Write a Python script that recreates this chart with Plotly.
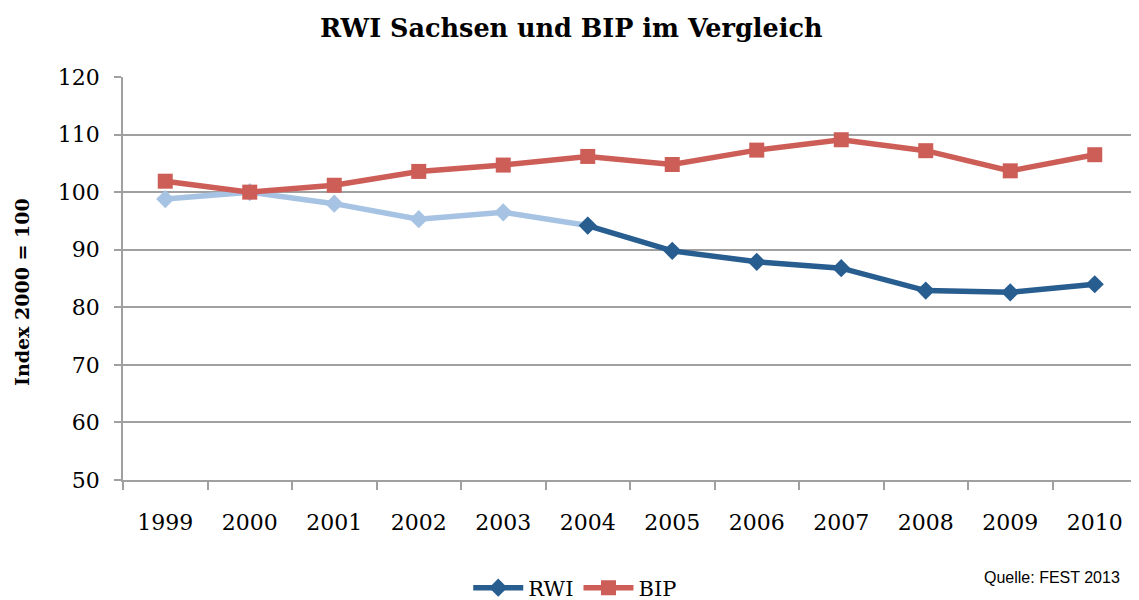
import plotly.graph_objects as go

years = ["1999", "2000", "2001", "2002", "2003", "2004", "2005", "2006", "2007", "2008", "2009", "2010"]
rwi = [98.8, 100.0, 98.0, 95.3, 96.5, 94.2, 89.8, 87.9, 86.8, 82.9, 82.6, 84.0]
bip = [101.9, 100.0, 101.2, 103.6, 104.7, 106.2, 104.8, 107.3, 109.1, 107.2, 103.7, 106.5]
y_ticks = [50, 60, 70, 80, 90, 100, 110, 120]

split = years.index("2004")

serif = "DejaVu Serif, Liberation Serif, serif"
light_blue = "#A7C3E3"
dark_blue = "#285D90"
red = "#CD5D57"

fig = go.Figure()
fig.add_trace(go.Scatter(
    x=years[:split + 1], y=rwi[:split + 1], mode="lines+markers",
    line=dict(color=light_blue, width=5.5),
    marker=dict(symbol="diamond", size=14, color=light_blue),
    showlegend=False, name="RWI (alt)"))
fig.add_trace(go.Scatter(
    x=years[split:], y=rwi[split:], mode="lines+markers",
    line=dict(color=dark_blue, width=5.5),
    marker=dict(symbol="diamond", size=14, color=dark_blue),
    name="RWI"))
fig.add_trace(go.Scatter(
    x=years, y=bip, mode="lines+markers",
    line=dict(color=red, width=5.5),
    marker=dict(symbol="square", size=15, color=red),
    name="BIP"))

fig.update_layout(
    width=1131, height=592,
    margin=dict(l=115, r=2, t=69, b=120, autoexpand=False),
    plot_bgcolor="white", paper_bgcolor="white",
    title=dict(text="<b>RWI Sachsen und BIP im Vergleich</b>",
               x=0.498, xanchor="center", y=0.966, yanchor="middle",
               font=dict(family=serif, size=25.5, color="black")),
    font=dict(family=serif, size=22, color="black"),
    legend=dict(orientation="h", x=0.446, xanchor="center", y=-0.268, yanchor="middle",
                font=dict(family=serif, size=21, color="black"),
                itemwidth=50, tracegroupgap=0),
    xaxis=dict(type="category", range=[-0.5, 11.5], tickson="boundaries",
               ticks="outside", ticklen=8, tickcolor="#A0A0A0", tickwidth=1.5,
               showline=True, linecolor="#A0A0A0", linewidth=1.5,
               showgrid=False, tickfont=dict(family=serif, size=22),
               ticklabelstandoff=22),
    yaxis=dict(range=[50, 120], tickvals=y_ticks, ticks="outside", ticklen=7,
               tickcolor="#A0A0A0", tickwidth=1.5,
               showline=True, linecolor="#A0A0A0", linewidth=1.5,
               showgrid=True, gridcolor="#A0A0A0", gridwidth=1.5,
               zeroline=False, tickfont=dict(family=serif, size=22),
               ticklabelstandoff=10),
    annotations=[
        dict(text="<b>Index 2000 = 100</b>", xref="paper", yref="paper",
             x=-0.0996, y=0.4665, xanchor="center", yanchor="middle",
             textangle=-90, showarrow=False,
             font=dict(family=serif, size=19, color="black")),
        dict(text="Quelle: FEST 2013", xref="paper", yref="paper",
             x=0.985, y=-0.243, xanchor="right", yanchor="middle",
             showarrow=False,
             font=dict(family="Liberation Sans Narrow, Liberation Sans, sans-serif", size=16, color="black"))],
)

fig.write_html("out.html")
